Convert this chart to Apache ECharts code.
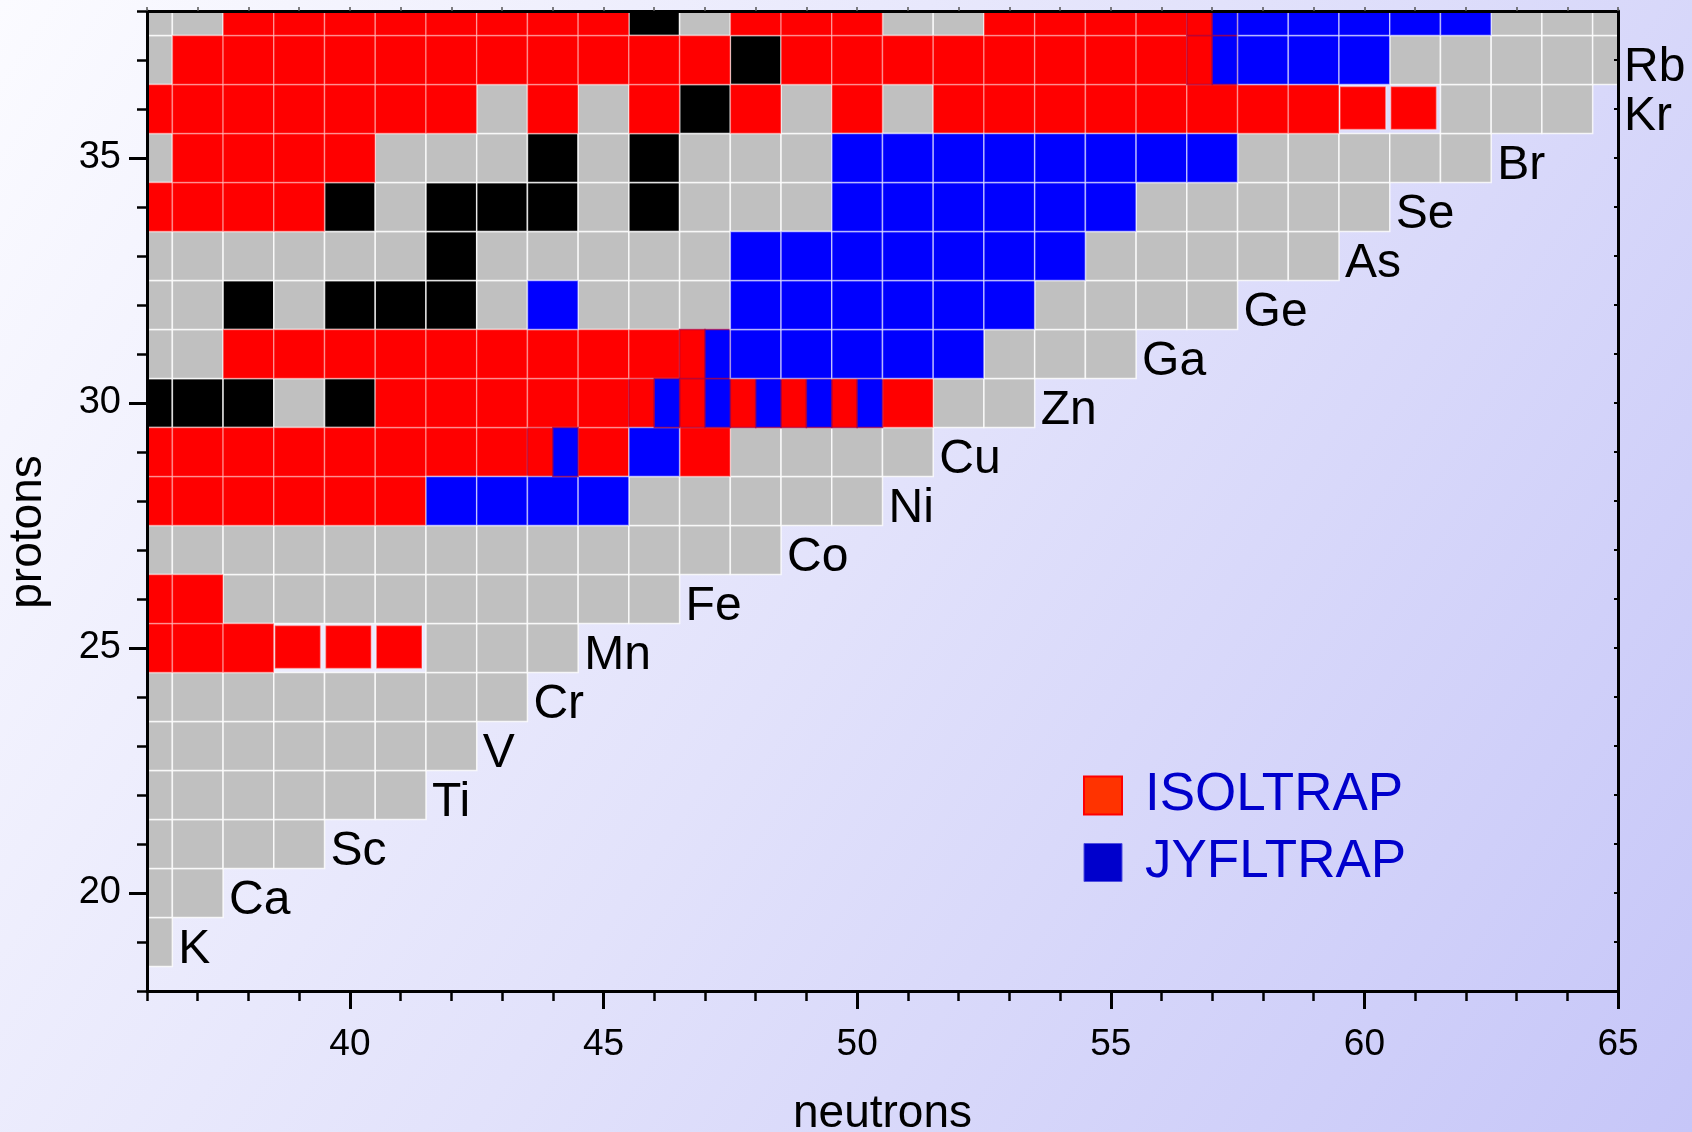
<!DOCTYPE html>
<html>
<head>
<meta charset="utf-8">
<title>Nuclide chart: Ni–Rb region, ISOLTRAP and JYFLTRAP</title>
<script src="https://cdn.jsdelivr.net/npm/echarts@6/dist/echarts.min.js"></script>
<style>
  html, body { margin: 0; padding: 0; }
  #chart { width: 1692px; height: 1132px; }
</style>
</head>
<body>
<div id="chart"></div>
<script>
// ---- data -------------------------------------------------------------
// proton number of each row, from the bottom (K) upward
const protonNumbers = [19, 20, 21, 22, 23, 24, 25, 26, 27, 28, 29, 30, 31, 32, 33, 34, 35, 36, 37, 38];
// element symbol written next to each row (the Sr row runs off the top and is not labelled)
const elementSymbols = ['K', 'Ca', 'Sc', 'Ti', 'V', 'Cr', 'Mn', 'Fe', 'Co', 'Ni', 'Cu', 'Zn', 'Ga', 'Ge', 'As', 'Se', 'Br', 'Kr', 'Rb', null];
// neutron number of the first character in every row string
const firstNeutron = 36;
// one code per nuclide, neutron number increasing left to right:
// G = known mass, K = stable, R = ISOLTRAP, r = ISOLTRAP (small box),
// B = JYFLTRAP, S = measured by both traps
const rowStatus = [
  'G',                                // K  (19)
  'GG',                               // Ca (20)
  'GGGG',                             // Sc (21)
  'GGGGGG',                           // Ti (22)
  'GGGGGGG',                          // V  (23)
  'GGGGGGGG',                         // Cr (24)
  'RRRrrrGGG',                        // Mn (25)
  'RRGGGGGGGGG',                      // Fe (26)
  'GGGGGGGGGGGGG',                    // Co (27)
  'RRRRRRBBBBGGGGG',                  // Ni (28)
  'RRRRRRRRSRBRGGGG',                 // Cu (29)
  'KKKGKRRRRRSSSSSRGG',               // Zn (30)
  'GGRRRRRRRRRSBBBBBGGG',             // Ga (31)
  'GGKGKKKGBGGGBBBBBBGGGG',           // Ge (32)
  'GGGGGGKGGGGGBBBBBBBGGGGG',         // As (33)
  'RRRRKGKKKGKGGGBBBBBBGGGGG',        // Se (34)
  'GRRRRGGGKGKGGGBBBBBBBBGGGGG',      // Br (35)
  'RRRRRRRGRGRKRGRGRRRRRRRRrrGGG',    // Kr (36)
  'GRRRRRRRRRRRKRRRRRRRRSBBBGGGGG',   // Rb (37)
  'GGRRRRRRRRKGRRRGGRRRRSBBBBBGGG'    // Sr (38)
];
const neutronTickLabels = [40, 45, 50, 55, 60, 65];
const protonTickLabels = [20, 25, 30, 35];
const neutronRange = [36, 65];
const protonRange = [18, 38];

// ---- styling ----------------------------------------------------------
const FONT = '"Liberation Sans", Arial, Helvetica, sans-serif';
const COLORS = { G: '#c0c0c0', K: '#000000', R: '#ff0000', B: '#0000ff' };

// ---- cell lists per series --------------------------------------------
const knownCells = [];
const isoltrapCells = [];
const jyfltrapCells = [];
protonNumbers.forEach((z, row) => {
  const codes = rowStatus[row];
  for (let k = 0; k < codes.length; k++) {
    const n = firstNeutron + k;
    const c = codes[k];
    if (c === 'G' || c === 'K') {
      knownCells.push({ n, z, from: 0, to: 1, color: COLORS[c], stroke: 'rgba(255,255,255,0.8)' });
    } else if (c === 'R' || c === 'r') {
      isoltrapCells.push({ n, z, from: 0, to: 1, inset: c === 'r', color: COLORS.R, stroke: 'rgba(255,255,255,0.35)' });
    } else if (c === 'B') {
      jyfltrapCells.push({ n, z, from: 0, to: 1, color: COLORS.B, stroke: 'rgba(255,255,255,0.55)' });
    } else if (c === 'S') {
      isoltrapCells.push({ n, z, from: 0, to: 0.5, color: COLORS.R, stroke: 'rgba(170,0,60,0.7)' });
      jyfltrapCells.push({ n, z, from: 0.5, to: 1, color: COLORS.B, stroke: 'rgba(170,0,60,0.7)' });
    }
  }
});

// element label anchors: right after the last nuclide of the row, or outside
// the frame when the symbol would not fit inside it
const labelItems = [];
protonNumbers.forEach((z, row) => {
  const symbol = elementSymbols[row];
  if (!symbol) return;
  const lastN = firstNeutron + rowStatus[row].length - 1;
  let anchor = lastN + 0.5;
  if (anchor + 1.0 > neutronRange[1]) anchor = neutronRange[1];
  labelItems.push({ n: anchor, z, symbol });
});

// tick positions for the unit (minor) ticks
const neutronUnitTicks = [];
for (let n = neutronRange[0]; n <= neutronRange[1]; n++) neutronUnitTicks.push(n);
const protonUnitTicks = [];
for (let z = protonRange[0]; z <= protonRange[1]; z++) protonUnitTicks.push(z);

// ---- rendering --------------------------------------------------------
function makeCellSeries(name, items) {
  return {
    name: name,
    type: 'custom',
    coordinateSystem: 'cartesian2d',
    xAxisIndex: 0,
    yAxisIndex: 0,
    silent: true,
    z: 2,
    itemStyle: { color: items.length ? items[0].color : '#000' },
    data: items.map(d => [d.n, d.z]),
    encode: { x: 0, y: 1 },
    renderItem: function (params, api) {
      const d = items[params.dataIndex];
      const a = api.coord([d.n - 0.5 + d.from, d.z + 0.5]);
      const b = api.coord([d.n - 0.5 + d.to, d.z - 0.5]);
      const rect = { x: a[0], y: a[1], width: b[0] - a[0], height: b[1] - a[1] };
      if (d.inset) {
        rect.x += 1; rect.y += 2; rect.width -= 5; rect.height -= 6;
      }
      const cs = params.coordSys;
      const shape = echarts.graphic.clipRectByRect(rect, { x: cs.x, y: cs.y, width: cs.width, height: cs.height });
      if (!shape) return null;
      return {
        type: 'rect',
        shape: shape,
        style: { fill: d.color, stroke: d.stroke, lineWidth: 1.5 }
      };
    }
  };
}

const labelSeries = {
  name: 'elements',
  type: 'custom',
  coordinateSystem: 'cartesian2d',
  clip: false,
  silent: true,
  z: 4,
  data: labelItems.map(d => [d.n, d.z]),
  encode: { x: 0, y: 1 },
  renderItem: function (params, api) {
    const d = labelItems[params.dataIndex];
    const p = api.coord([d.n, d.z]);
    return {
      type: 'text',
      x: p[0] + 6,
      y: p[1] + 8,
      style: {
        text: d.symbol,
        fill: '#000',
        fontSize: 48,
        fontFamily: FONT,
        align: 'left',
        verticalAlign: 'middle'
      }
    };
  }
};

const chart = echarts.init(document.getElementById('chart'), null, { renderer: 'canvas' });

const axisLineStyle = { color: '#000', width: 3 };

chart.setOption({
  animation: false,
  backgroundColor: new echarts.graphic.LinearGradient(0, 0, 1, 1, [
    { offset: 0, color: '#fbfbff' },
    { offset: 0.5, color: '#e2e2fb' },
    { offset: 1, color: '#c6c6f8' }
  ]),
  grid: { left: 147, right: 74, top: 11, bottom: 141, containLabel: false, outerBoundsMode: 'none' },
  legend: {
    orient: 'vertical',
    left: 1078,
    top: 764,
    itemWidth: 38,
    itemHeight: 38,
    itemGap: 14,
    selectedMode: false,
    textStyle: { fontSize: 53, color: '#0000cc', fontFamily: FONT, padding: [0, 0, 0, 18], lineHeight: 40 },
    data: [
      { name: 'ISOLTRAP', icon: 'rect', itemStyle: { color: '#ff3300', borderColor: '#ff0000', borderWidth: 2 } },
      { name: 'JYFLTRAP', icon: 'rect', itemStyle: { color: '#0000cc', borderColor: '#5050e0', borderWidth: 1 } }
    ]
  },
  xAxis: [
    {
      type: 'value', min: neutronRange[0], max: neutronRange[1], position: 'bottom', z: 5,
      axisLine: { show: true, onZero: false, lineStyle: axisLineStyle },
      axisTick: { show: true, customValues: neutronTickLabels, length: 18, lineStyle: { color: '#000', width: 3 } },
      axisLabel: { customValues: neutronTickLabels, fontSize: 37, color: '#000', fontFamily: FONT, margin: 35 },
      splitLine: { show: false },
      name: 'neutrons', nameLocation: 'middle', nameGap: 100,
      nameTextStyle: { fontSize: 46, color: '#000', fontFamily: FONT }
    },
    {
      type: 'value', min: neutronRange[0], max: neutronRange[1], position: 'bottom', z: 5,
      axisLine: { show: false, onZero: false },
      axisTick: { show: true, customValues: neutronUnitTicks, length: 10, lineStyle: { color: '#000', width: 2.5 } },
      axisLabel: { show: false },
      splitLine: { show: false }
    },
    {
      type: 'value', min: neutronRange[0], max: neutronRange[1], position: 'top', z: 5,
      axisLine: { show: true, onZero: false, lineStyle: axisLineStyle },
      axisTick: { show: true, customValues: neutronUnitTicks, length: 4, lineStyle: { color: '#555', width: 1.5 } },
      axisLabel: { show: false },
      splitLine: { show: false }
    }
  ],
  yAxis: [
    {
      type: 'value', min: protonRange[0], max: protonRange[1], position: 'left', z: 5,
      axisLine: { show: true, onZero: false, lineStyle: axisLineStyle },
      axisTick: { show: true, customValues: protonTickLabels, length: 18, lineStyle: { color: '#000', width: 3 } },
      axisLabel: { customValues: protonTickLabels, fontSize: 38, color: '#000', fontFamily: FONT, margin: 26 },
      splitLine: { show: false },
      name: 'protons', nameLocation: 'middle', nameGap: 96, nameRotate: 90,
      nameTextStyle: { fontSize: 46, color: '#000', fontFamily: FONT, padding: [0, 62, 0, 0] }
    },
    {
      type: 'value', min: protonRange[0], max: protonRange[1], position: 'left', z: 5,
      axisLine: { show: false, onZero: false },
      axisTick: { show: true, customValues: protonUnitTicks, length: 10, lineStyle: { color: '#000', width: 2.5 } },
      axisLabel: { show: false },
      splitLine: { show: false }
    },
    {
      type: 'value', min: protonRange[0], max: protonRange[1], position: 'right', z: 5,
      axisLine: { show: true, onZero: false, lineStyle: axisLineStyle },
      axisTick: { show: true, inside: true, customValues: protonUnitTicks, length: 4, lineStyle: { color: '#000', width: 2 } },
      axisLabel: { show: false },
      splitLine: { show: false }
    }
  ],
  series: [
    makeCellSeries('known', knownCells),
    makeCellSeries('ISOLTRAP', isoltrapCells),
    makeCellSeries('JYFLTRAP', jyfltrapCells),
    labelSeries
  ]
});
</script>
</body>
</html>
